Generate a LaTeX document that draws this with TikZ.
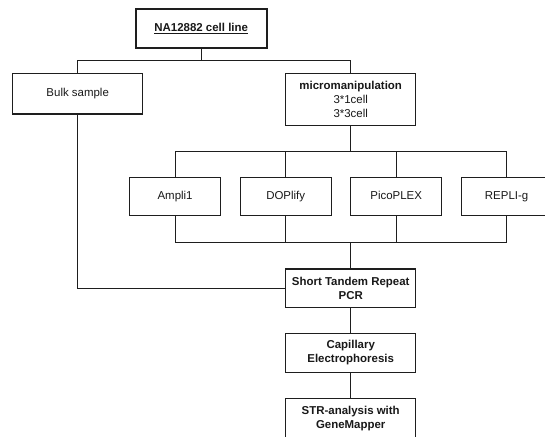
\documentclass[tikz,border=0pt]{standalone}
\usepackage{fontspec}
\setmainfont{Liberation Sans}
\definecolor{ln}{RGB}{30,30,30}
\definecolor{tx}{RGB}{25,25,25}
\begin{document}
\begin{tikzpicture}[x=1bp,y=-1bp,
  box/.style={draw=ln,line width=1.2bp,fill=white,inner sep=1bp,align=center,text=tx,
    font=\fontsize{11.5}{13.8}\selectfont,minimum width=130bp,minimum height=39bp},
  sbox/.style={box,minimum width=91bp,minimum height=38.4bp,text height=8.3bp,text depth=2.4bp},
  con/.style={draw=ln,line width=1.2bp}]
\clip (0,0) rectangle (545,437);
\fill[white] (0,0) rectangle (545,437);
\node[box,line width=2.2bp,minimum width=131bp,minimum height=39.3bp] (top) at (201.2,28.7) {\textbf{\underline{NA12882 cell line}}};
\node[box,minimum height=40.3bp] (bulk) at (77.7,93.8) {Bulk sample};
\node[box,minimum height=52bp] (micro) at (350.7,99.4) {\textbf{micromanipulation}\\3*1cell\\3*3cell};
\node[sbox] (a1) at (175.1,196.5) {Ampli1};
\node[sbox] (a2) at (285.7,196.5) {DOPlify};
\node[sbox] (a3) at (396.2,196.5) {PicoPLEX};
\node[sbox] (a4) at (506.6,196.5) {REPLI-g};
\node[box,minimum height=38.5bp] (pcr) at (350.7,288.2) {\textbf{Short Tandem Repeat}\\\textbf{PCR}};
\node[box] (ce) at (350.7,352.8) {\textbf{Capillary}\\\textbf{Electrophoresis}};
\node[box] (str) at (350.7,418.2) {\textbf{STR-analysis with}\\\textbf{GeneMapper}};
\coordinate (b1) at (201.2,60.5);
\coordinate (b2) at (350.7,151.7);
\coordinate (b3) at (350.7,242.7);
\draw[con] (top.south) -- (b1);
\draw[con] (bulk.north) -- (bulk.north |- b1) -| (micro.north);
\draw[con] (micro.south) -- (b2);
\draw[con] (a1.north) -- (a1.north |- b2) -| (a4.north);
\draw[con] (a2.north) -- (a2.north |- b2);
\draw[con] (a3.north) -- (a3.north |- b2);
\draw[con] (a1.south) -- (a1.south |- b3) -| (a4.south);
\draw[con] (a2.south) -- (a2.south |- b3);
\draw[con] (a3.south) -- (a3.south |- b3);
\draw[con] (b3) -- (pcr.north);
\draw[con] (bulk.south) |- (pcr.west);
\draw[con] (pcr.south) -- (ce.north);
\draw[con] (ce.south) -- (str.north);
\end{tikzpicture}
\end{document}
